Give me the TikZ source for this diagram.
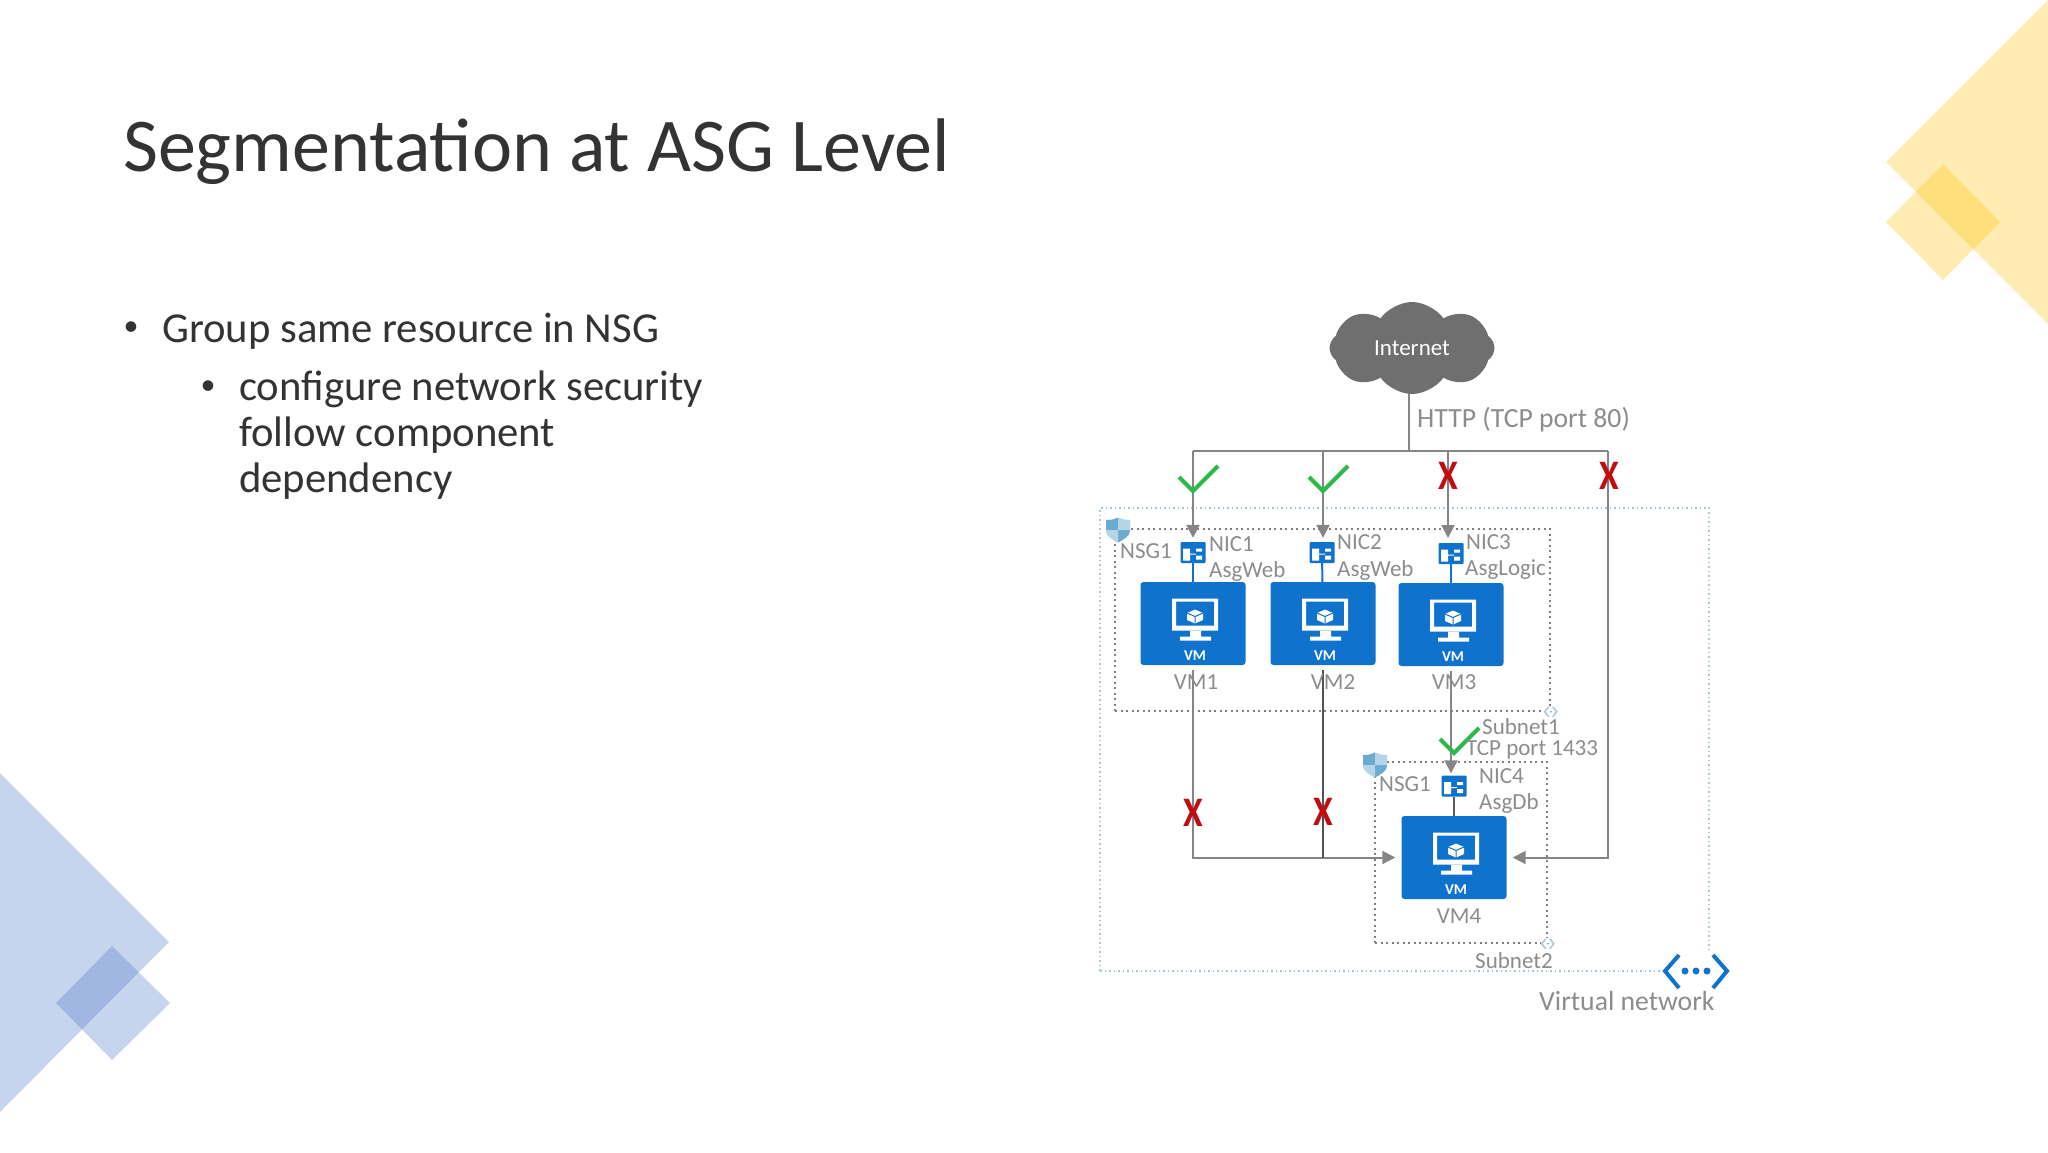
\documentclass[tikz,border=0pt]{standalone}
\usepackage{fontspec}
\setmainfont{Carlito}
\usetikzlibrary{shapes.symbols, arrows.meta, positioning, calc}
\definecolor{inkgrey}{HTML}{333333}
\definecolor{notegrey}{HTML}{8C8C8C}
\definecolor{flowgrey}{HTML}{858585}
\definecolor{cloudgrey}{HTML}{6F6F6F}
\definecolor{azureblue}{HTML}{0F72CC}
\definecolor{paleblue}{HTML}{A9C6D8}
\definecolor{shieldblue}{HTML}{6DAAD0}
\definecolor{passgreen}{HTML}{2DB84A}
\definecolor{denyred}{HTML}{C00D12}
\definecolor{slideyellow}{HTML}{FFC000}
\definecolor{slideblue}{HTML}{4472C4}

\begin{document}
\begin{tikzpicture}[
  x=1pt, y=-1pt,
  decor/.style={opacity=0.3},
  titletext/.style={anchor=west, inner sep=0, text=inkgrey, font=\fontsize{76}{90}\selectfont},
  bodytext/.style={anchor=west, inner sep=0, text=inkgrey, align=left, font=\fontsize{42.7}{46}\selectfont},
  dotmark/.style={inner sep=0, text=inkgrey, font=\fontsize{30}{36}\selectfont},
  vmbox/.style={rectangle, fill=azureblue, rounded corners=3pt, minimum width=105pt, minimum height=83pt, inner sep=0},
  vmtag/.style={inner sep=0, text=white, font=\fontsize{15}{18}\selectfont\bfseries},
  nicbox/.style={rectangle, fill=azureblue, rounded corners=1pt, minimum width=25pt, minimum height=21pt, inner sep=0},
  caption/.style={inner sep=0, text=notegrey, font=\fontsize{23}{27}\selectfont},
  vnetline/.style={draw=paleblue, line width=1.5pt, dash pattern=on 1.5pt off 3pt},
  subnetline/.style={draw=gray, line width=1.5pt, dash pattern=on 2pt off 3.5pt},
  flow/.style={draw=flowgrey, line width=2pt},
  arrow/.style={flow, -{Triangle[length=13pt, width=13pt]}},
  niclink/.style={draw=azureblue, line width=2pt},
  deny/.style={inner sep=0, text=denyred, xscale=0.85, font=\fontsize{42}{42}\selectfont\bfseries},
  vmicon/.pic={
    \fill[white, even odd rule] (-21,-25) rectangle (25,7) (-17,-22) rectangle (21,2);
    \fill[white] (-3,7) rectangle (8,13) (-13,13) rectangle (18,17);
    \fill[white] (2,-14) -- (10,-10.5) -- (10,-3.5) -- (2,0) -- (-6,-3.5) -- (-6,-10.5) -- cycle;
    \draw[azureblue, line width=1pt] (-6,-10.5) -- (2,-7) -- (10,-10.5) (2,-7) -- (2,0);
  },
  nicicon/.pic={
    \fill[white] (-10,-4) rectangle (-3,8) (3,-4) rectangle (9,-1) (3,3) rectangle (9,7) (-3,1) rectangle (3,2);
  },
  shield/.pic={
    \fill[shieldblue] (-12,-10) .. controls (-6,-10) and (-3,-11) .. (0,-12.5) .. controls (3,-11) and (6,-10) .. (12,-10) -- (12,1) .. controls (12,6) and (5,10) .. (0,12.5) .. controls (-5,10) and (-12,6) .. (-12,1) -- cycle;
    \fill[white, opacity=0.5] (0,-12.5) .. controls (3,-11) and (6,-10) .. (12,-10) -- (12,0) -- (0,0) -- cycle;
    \fill[white, opacity=0.5] (-12,0) -- (0,0) -- (0,12.5) .. controls (-5,10) and (-12,6) .. (-12,1) -- cycle;
  },
  tick/.pic={
    \draw[passgreen, line width=4pt] (-14,-14) -- (0,0) -- (25,-25);
  },
  subnetmark/.pic={
    \fill[white] (-7,-6) rectangle (7,6);
    \draw[paleblue, line width=1.5pt] (-2,-5) -- (-6,0) -- (-2,5) (2,-5) -- (6,0) -- (2,5);
    \fill[shieldblue] (0,0) circle (1pt);
  }
]
  \useasboundingbox (0,0) rectangle (2048,1152);

  % Slide corners
  \fill[slideyellow, decor] (1886,162) -- (2048,0) -- (2048,324) -- cycle;
  \fill[slideyellow, decor] (1886,222) -- (1943,164) -- (2000,222) -- (1943,280) -- cycle;
  \fill[slideblue, decor] (0,773) -- (169,942) -- (0,1112) -- cycle;
  \fill[slideblue, decor] (56,1003) -- (112,946) -- (170,1003) -- (112,1060) -- cycle;

  % Slide text
  \node[titletext] (title) at (123,152) {Segmentation at ASG Level};
  \node[dotmark] (bullet1) at (131,329) {•};
  \node[bodytext] (body1) at (162,331) {Group same resource in NSG};
  \node[dotmark] (bullet2) at (208,388) {•};
  \node[bodytext, anchor=north west] (body2) at (239,371) {configure network security\\follow component\\dependency};

  % Network outlines
  \node[vnetline, rectangle, minimum width=609pt, minimum height=463pt, inner sep=0] (vnet) at (1404.5,739.5) {};
  \node[subnetline, rectangle, minimum width=435pt, minimum height=182pt, inner sep=0] (subnet1) at (1332.5,620) {};
  \node[subnetline, rectangle, minimum width=172pt, minimum height=181pt, inner sep=0] (subnet2) at (1461,852.5) {};
  \pic at (subnet1.south east) {subnetmark};
  \pic at (subnet2.south east) {subnetmark};
  \pic at (1118,530) {shield};
  \pic at (1375,765) {shield};

  % VMs
  \node[vmbox] (vm1) at (1193,623.5) {};
  \node[vmbox] (vm2) at (1323,623.5) {};
  \node[vmbox] (vm3) at (1451,624.5) {};
  \node[vmbox] (vm4) at (1454,857.5) {};
  \pic at (vm1) {vmicon};
  \pic at (vm2) {vmicon};
  \pic at (vm3) {vmicon};
  \pic at (vm4) {vmicon};
  \node[vmtag] (tag1) at ([xshift=2pt, yshift=9.5pt]vm1.south) {VM};
  \node[vmtag] (tag2) at ([xshift=2pt, yshift=9.5pt]vm2.south) {VM};
  \node[vmtag] (tag3) at ([xshift=2pt, yshift=9.5pt]vm3.south) {VM};
  \node[vmtag] (tag4) at ([xshift=2pt, yshift=9.5pt]vm4.south) {VM};

  % NICs
  \node[nicbox] (nic1) at (1193,552.5) {};
  \node[nicbox] (nic2) at (1322,552.5) {};
  \node[nicbox] (nic3) at (1451,553.5) {};
  \node[nicbox] (nic4) at (1454,786) {};
  \pic at (nic1) {nicicon};
  \pic at (nic2) {nicicon};
  \pic at (nic3) {nicicon};
  \pic at (nic4) {nicicon};
  \draw[niclink] (nic1) -- (vm1);
  \draw[niclink] (nic2) -- (vm2);
  \draw[niclink] (nic3) -- (vm3);
  \draw[niclink, draw=inkgrey!80] (nic4) -- (vm4);

  % Internet
  \node[cloud, cloud puffs=8, cloud puff arc=110, aspect=1.8, fill=cloudgrey, minimum width=165pt, minimum height=92pt, inner sep=0, text=white, font=\fontsize{23}{27}\selectfont] (internet) at (1412,348) {Internet};
  \coordinate (hub) at (1409,451);
  \coordinate (drop1) at (1193,451);
  \coordinate (drop2) at (1323,451);
  \coordinate (drop3) at (1448,451);
  \coordinate (drop4) at (1608,451);
  \coordinate (tip3) at (1448,542);

  % Arrows
  \draw[flow] (internet.south -| hub) -- (hub);
  \draw[flow] (drop1) -- (drop4);
  \draw[arrow, shorten >=4pt] (drop1) -- (nic1.north);
  \draw[arrow, shorten >=4pt] (drop2) -- (drop2 |- nic2.north);
  \draw[arrow, shorten >=4pt] (drop3) -- (tip3);
  \draw[arrow, shorten >=6pt] (drop4) |- (vm4.east);
  \draw[arrow, shorten <=5pt, shorten >=6pt] (vm1.south) |- (vm4.west);
  \draw[flow, draw=inkgrey!85, shorten <=5pt] (vm2.south) -- (vm2.south |- vm4.west);
  \draw[arrow, shorten <=5pt, shorten >=2pt] (vm3.south) -- (vm3.south |- nic4.north);

  % Marks
  \pic at (1193,491) {tick};
  \pic at (1323,491) {tick};
  \pic at (1454,753) {tick};
  \node[deny] (deny3) at (1448,476) {X};
  \node[deny] (deny4) at (1609,476) {X};
  \node[deny] (deny1) at (1193,813) {X};
  \node[deny] (deny2) at (1323,812) {X};

  % Labels
  \node[caption, anchor=west, font=\fontsize{27.7}{32}\selectfont] (http) at (1417,420) {HTTP (TCP port 80)};
  \node[caption, anchor=west] (nsg1) at (1120,551) {NSG1};
  \node[caption, anchor=west] (nicname1) at (1209,544) {NIC1};
  \node[caption, anchor=west] (nicname2) at (1337,542) {NIC2};
  \node[caption, anchor=west] (nicname3) at (1466,542) {NIC3};
  \node[caption, anchor=west] (asg1) at (1209,571) {AsgWeb};
  \node[caption, anchor=west] (asg2) at (1337,570) {AsgWeb};
  \node[caption, anchor=west] (asg3) at (1465,570) {AsgLogic};
  \node[caption] (vmname1) at (1196,682) {VM1};
  \node[caption] (vmname2) at (1333,682) {VM2};
  \node[caption] (vmname3) at (1454,682) {VM3};
  \node[caption, anchor=west] (subnetname1) at (1482,727) {Subnet1};
  \node[caption, anchor=west] (port) at (1466,750) {TCP port 1433};
  \node[caption, anchor=west] (nsg2) at (1379,784) {NSG1};
  \node[caption, anchor=west] (nicname4) at (1479,776) {NIC4};
  \node[caption, anchor=west] (asg4) at (1479,803) {AsgDb};
  \node[caption] (vmname4) at (1459,916) {VM4};
  \node[caption, anchor=west] (subnetname2) at (1475,961) {Subnet2};

  % Virtual network icon
  \fill[white] (1660,952) rectangle (1736,991);
  \draw[azureblue, line width=4pt] (1679,955) -- (1665,971) -- (1679,988);
  \draw[azureblue, line width=4pt] (1713,955) -- (1727,971) -- (1713,988);
  \fill[azureblue] (1685,971) circle (3.5pt) (1696,971) circle (3.5pt) (1707,971) circle (3.5pt);
  \node[caption, anchor=west, font=\fontsize{27.7}{32}\selectfont] (vnetname) at (1539,1001) {Virtual network};
\end{tikzpicture}
\end{document}
